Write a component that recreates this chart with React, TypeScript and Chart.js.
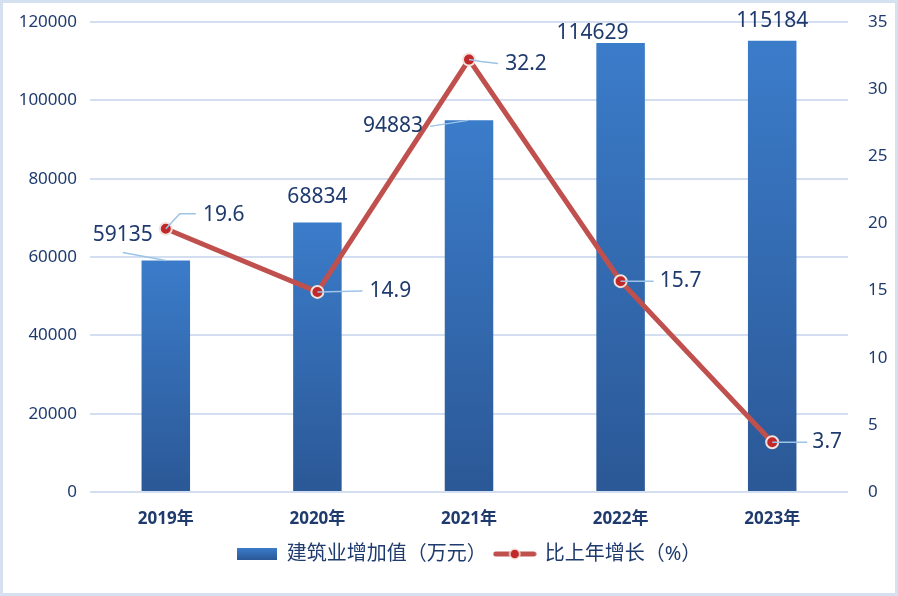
import { useEffect, useRef } from 'react'
import Chart from 'chart.js/auto'

const years = ['2019年', '2020年', '2021年', '2022年', '2023年']
const addedValue = [59135, 68834, 94883, 114629, 115184]
const growthRate = [19.6, 14.9, 32.2, 15.7, 3.7]
const leftTicks = [0, 20000, 40000, 60000, 80000, 100000, 120000]
const rightTicks = [0, 5, 10, 15, 20, 25, 30, 35]

// label placement relative to each drawn element (Excel-style, with leader lines)
type Placement = { dx: number; dy: number; leader?: [number, number][] }
const barLabelPlacement: Placement[] = [
  { dx: -43, dy: -25, leader: [[-43, -8], [0, 0]] },
  { dx: 0, dy: -25 },
  { dx: -76, dy: 6, leader: [[-39, 6], [-1, 0]] },
  { dx: -28, dy: -10 },
  { dx: 0, dy: -20 },
]
const lineLabelPlacement: Placement[] = [
  { dx: 58, dy: -14, leader: [[0, 0], [14, -15], [30, -15]] },
  { dx: 73, dy: -1, leader: [[0, 0], [45, -1]] },
  { dx: 57, dy: 4, leader: [[0, 0], [12, 2], [29, 4]] },
  { dx: 60, dy: 0, leader: [[0, 0], [33, 0]] },
  { dx: 55, dy: 0, leader: [[0, 0], [35, 0]] },
]

const FONT = '"Noto Sans", "Noto Sans CJK SC", sans-serif'
const TEXT = '#1f3b6e'
const GRID = '#d3dff0'
const LEADER = '#9dc3e6'
const BAR_TOP = '#3b7cca'
const BAR_BOTTOM = '#2b5896'
const LINE = '#c0504d'

const labelPlugin = {
  id: 'excelLabels',
  afterDatasetsDraw(chart: any) {
    const ctx = chart.ctx as CanvasRenderingContext2D
    const draw = (index: number, texts: string[], places: Placement[]) => {
      const meta = chart.getDatasetMeta(index)
      meta.data.forEach((el: any, i: number) => {
        const p = places[i]
        if (p.leader) {
          ctx.beginPath()
          ctx.strokeStyle = LEADER
          ctx.lineWidth = 1.5
          p.leader.forEach(([lx, ly], k) => {
            if (k === 0) ctx.moveTo(el.x + lx, el.y + ly)
            else ctx.lineTo(el.x + lx, el.y + ly)
          })
          ctx.stroke()
        }
        ctx.fillStyle = TEXT
        ctx.font = `21px ${FONT}`
        ctx.textAlign = 'center'
        ctx.textBaseline = 'middle'
        ctx.fillText(texts[i], el.x + p.dx, el.y + p.dy)
      })
    }
    ctx.save()
    draw(0, addedValue.map(String), barLabelPlacement)
    draw(1, growthRate.map(v => v.toFixed(1)), lineLabelPlacement)
    ctx.restore()
  },
}

function barSwatch() {
  const c = document.createElement('canvas')
  c.width = 40
  c.height = 12
  const g = c.getContext('2d')!
  const grad = g.createLinearGradient(0, 0, 0, 12)
  grad.addColorStop(0, BAR_TOP)
  grad.addColorStop(1, BAR_BOTTOM)
  g.fillStyle = grad
  g.fillRect(0, 0, 40, 12)
  return c
}

function lineSwatch() {
  const c = document.createElement('canvas')
  c.width = 44
  c.height = 14
  const g = c.getContext('2d')!
  g.strokeStyle = LINE
  g.lineWidth = 5
  g.lineCap = 'round'
  g.beginPath()
  g.moveTo(3, 7)
  g.lineTo(41, 7)
  g.stroke()
  g.beginPath()
  g.arc(22, 7, 5, 0, Math.PI * 2)
  g.fillStyle = '#c0282a'
  g.fill()
  g.lineWidth = 1.5
  g.strokeStyle = '#f3e3dc'
  g.stroke()
  return c
}

const App = () => {
  const chartRef = useRef<HTMLCanvasElement>(null)

  useEffect(() => {
    if (!chartRef.current) return
    const myChart = new Chart(chartRef.current, {
      type: 'bar',
      data: {
        labels: years,
        datasets: [
          {
            type: 'bar',
            label: '建筑业增加值（万元）',
            data: addedValue,
            yAxisID: 'y',
            order: 2,
            barPercentage: 0.64,
            categoryPercentage: 0.5,
            backgroundColor: (c: any) => {
              const chart = c.chart
              const y = chart.scales?.y
              if (!y || c.raw === undefined) return BAR_TOP
              const top = y.getPixelForValue(c.raw)
              const bottom = y.getPixelForValue(0)
              if (!isFinite(top) || !isFinite(bottom) || top === bottom) return BAR_TOP
              const grad = chart.ctx.createLinearGradient(0, top, 0, bottom)
              grad.addColorStop(0, BAR_TOP)
              grad.addColorStop(1, BAR_BOTTOM)
              return grad
            },
          },
          {
            type: 'line',
            label: '比上年增长（%）',
            data: growthRate,
            yAxisID: 'y1',
            order: 1,
            borderColor: LINE,
            borderWidth: 5,
            pointRadius: 6,
            pointBorderWidth: 2,
            pointBackgroundColor: '#c0282a',
            pointBorderColor: '#f3e3dc',
            tension: 0,
          },
        ],
      } as any,
      options: {
        animation: false,
        responsive: true,
        maintainAspectRatio: false,
        layout: { padding: { top: 19, bottom: 19 } },
        scales: {
          x: {
            grid: { display: false },
            border: { display: false },
            ticks: {
              color: TEXT,
              padding: 9,
              font: { family: FONT, size: 17, weight: 'bold' },
            },
            afterFit: (axis: any) => { axis.height = 44 },
          },
          y: {
            position: 'left',
            min: 0,
            max: 120000,
            afterBuildTicks: (axis: any) => { axis.ticks = leftTicks.map(v => ({ value: v })) },
            grid: { color: GRID, lineWidth: 2, drawTicks: false },
            border: { display: false },
            ticks: {
              color: TEXT,
              padding: 13,
              font: { family: FONT, size: 17 },
              callback: (v: any) => String(v),
            },
            afterFit: (axis: any) => {
              axis.width = 87
              axis.paddingTop = 0
              axis.paddingBottom = 0
            },
          },
          y1: {
            position: 'right',
            min: 0,
            max: 35,
            afterBuildTicks: (axis: any) => { axis.ticks = rightTicks.map(v => ({ value: v })) },
            grid: { display: false },
            border: { display: false },
            ticks: {
              color: TEXT,
              padding: 12,
              font: { family: FONT, size: 17 },
              callback: (v: any) => String(v),
            },
            afterFit: (axis: any) => {
              axis.width = 47
              axis.paddingTop = 0
              axis.paddingBottom = 0
            },
          },
        },
        plugins: {
          tooltip: { enabled: false },
          legend: {
            position: 'bottom',
            fullSize: false,
            labels: {
              usePointStyle: true,
              pointStyleWidth: 40,
              boxHeight: 12,
              padding: 8,
              color: TEXT,
              font: { family: FONT, size: 20 },
              generateLabels: () => [
                { text: '建筑业增加值（万元）', pointStyle: barSwatch(), fontColor: TEXT, lineWidth: 0, hidden: false, datasetIndex: 0 },
                { text: '比上年增长（%）', pointStyle: lineSwatch(), fontColor: TEXT, lineWidth: 0, hidden: false, datasetIndex: 1 },
              ] as any,
            },
          },
        },
      } as any,
      plugins: [labelPlugin],
    })

    return () => {
      myChart.destroy()
    }
  }, [])

  return (
    <div
      style={{
        position: 'absolute',
        left: 0,
        top: 0,
        width: 898,
        height: 596,
        boxSizing: 'border-box',
        border: '3px solid #d5e1f1',
        background: '#fff',
      }}
    >
      <canvas ref={chartRef} />
    </div>
  )
}

export default App
